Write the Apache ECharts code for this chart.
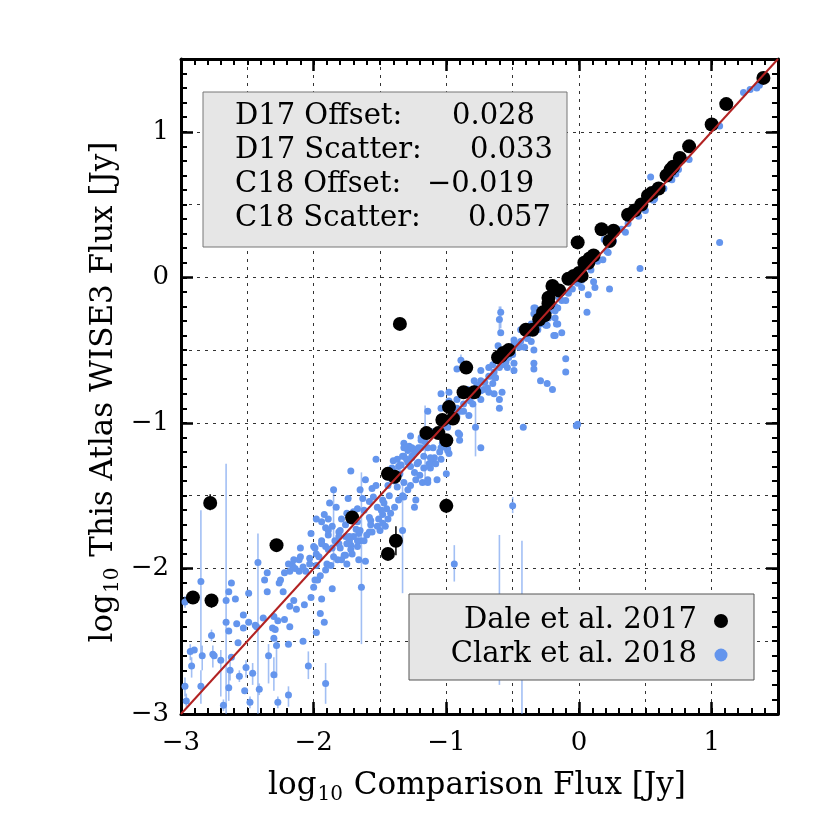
<!DOCTYPE html>
<html><head><meta charset="utf-8">
<script src="https://cdn.jsdelivr.net/npm/echarts@6/dist/echarts.min.js"></script>
<style>html,body{margin:0;padding:0;background:#fff}#c{width:830px;height:830px}</style>
</head><body><div id="c"></div>
<script>
// ---------- data ----------
const axisRange = [-3, 1.5];
const tickValues = [-3, -2, -1, 0, 1];
const tickLabels = ['\u22123', '\u22122', '\u22121', '0', '1'];

// Clark et al. 2018 points [x, y]
const clarkPoints = [
[-2.97,-2.23],[-2.93,-2.57],[-2.90,-2.56],[-2.92,-2.67],[-2.97,-2.81],[-2.96,-2.91],[-2.85,-2.81],[-2.85,-2.09],[-2.84,-2.60],[-2.77,-2.46],
[-2.76,-2.59],[-2.70,-2.63],[-2.68,-2.94],[-2.66,-2.22],[-2.66,-2.37],[-2.64,-2.43],[-2.64,-2.16],[-2.62,-2.10],[-2.63,-2.70],[-2.64,-2.82],
[-2.59,-2.21],[-2.58,-2.38],[-2.57,-2.51],[-2.56,-2.74],[-2.53,-2.32],[-2.53,-2.41],[-2.52,-2.84],[-2.51,-2.68],[-2.49,-2.17],[-2.49,-2.37],
[-2.48,-2.92],[-2.46,-2.72],[-2.44,-2.39],[-2.42,-1.96],[-2.41,-2.83],[-2.38,-2.34],[-2.37,-2.08],[-2.35,-2.16],[-2.35,-2.03],[-2.34,-2.60],
[-2.30,-2.73],[-2.31,-2.41],[-2.30,-2.33],[-2.29,-2.42],[-2.30,-2.48],[-2.28,-2.53],[-2.27,-2.92],[-2.26,-2.10],[-2.25,-2.08],[-2.27,-2.36],
[-2.23,-2.16],[-2.22,-2.35],[-2.22,-2.03],[-2.19,-1.97],[-2.19,-2.87],[-2.18,-2.40],[-2.18,-2.26],[-2.19,-2.52],[-2.16,-1.98],[-2.15,-2.22],
[-2.13,-2.28],[-2.14,-2.00],[-2.11,-2.02],[-2.10,-1.86],[-2.08,-2.50],[-2.07,-2.25],[-2.06,-2.02],[-2.04,-2.67],[-2.02,-2.20],[-2.00,-2.13],
[-1.99,-2.08],[-1.98,-1.98],[-1.95,-2.31],[-1.94,-2.21],[-1.91,-2.79],[-1.98,-2.44],[-1.92,-2.37],[-1.86,-2.14],[-1.64,-2.13],
[-2.11,-1.94],[-2.03,-1.93],[-1.98,-1.90],[-1.99,-1.86],[-1.91,-1.85],[-1.86,-1.86],[-1.84,-1.81],[-1.76,-1.91],[-1.71,-1.90],[-1.79,-1.94],
[-1.75,-1.97],[-1.66,-1.94],[-1.61,-1.95],[-1.65,-1.81],[-1.58,-1.75],[-1.94,-1.81],[-1.89,-1.77],[-1.81,-1.75],[-1.76,-1.78],[-1.72,-1.84],
[-2.02,-1.76],[-1.98,-1.66],[-1.94,-1.68],[-1.91,-1.72],[-1.92,-1.63],[-1.88,-1.55],[-1.83,-1.58],[-1.89,-1.66],[-1.86,-1.71],[-1.85,-1.46],
[-1.89,-1.74],[-1.81,-1.78],[-1.80,-1.74],[-1.79,-1.66],[-1.76,-1.70],[-1.73,-1.81],[-1.72,-1.33],[-1.74,-1.52],[-1.75,-1.62],[-1.70,-1.61],
[-1.68,-1.73],[-1.67,-1.81],[-1.67,-1.68],[-1.67,-1.59],[-1.65,-1.46],[-1.63,-1.52],[-1.62,-1.60],[-1.61,-1.39],[-1.58,-1.54],[-1.58,-1.65],
[-1.57,-1.70],[-1.56,-1.45],[-1.55,-1.51],[-1.53,-1.25],[-1.53,-1.43],[-1.52,-1.58],[-1.51,-1.66],[-1.50,-1.74],[-1.48,-1.63],[-1.48,-1.53],
[-1.47,-1.55],[-1.46,-1.71],[-1.45,-1.59],[-1.44,-1.43],[-1.43,-1.50],[-1.42,-1.38],[-1.41,-1.31],[-1.39,-1.40],[-1.37,-1.38],[-1.35,-1.35],
[-1.33,-1.50],[-1.34,-1.29],[-1.32,-1.23],[-1.29,-1.27],[-1.27,-1.30],[-1.24,-1.34],[-1.23,-1.53],[-1.24,-1.58],[-1.26,-1.23],[-1.22,-1.19],
[-1.19,-1.17],[-1.18,-1.41],[-1.14,-1.39],[-1.12,-1.31],[-1.17,-1.23],[-1.10,-1.27],[-1.08,-1.28],[-1.07,-1.39],[-1.04,-1.25],[-1.03,-1.14],
[-1.19,-1.10],[-1.27,-1.09],[-1.32,-1.14],[-1.29,-1.19],[-1.37,-1.25],[-1.21,-1.27],[-1.17,-1.12],[-1.14,-0.92],[-1.10,-1.17],[-0.99,-1.19],
[-0.98,-1.21],[-2.15,-1.94],[-2.10,-1.92],[-2.18,-2.02],[-2.08,-1.99],[-2.03,-1.97],[-1.94,-1.83],[-2.00,-1.85],
[-1.97,-2.08],[-1.95,-2.05],[-1.91,-2.01],[-1.87,-1.98],[-1.82,-1.94],[-1.77,-1.91],[-1.72,-1.87],[-1.67,-1.85],[-1.62,-1.81],[-1.60,-1.77],
[-1.56,-1.75],[-1.75,-1.83],[-1.80,-1.86],[-1.52,-1.71],[-1.48,-1.69],[-1.44,-1.66],[-1.42,-1.62],[-1.39,-1.58],[-1.36,-1.53],[-1.32,-1.51],
[-1.29,-1.46],[-1.27,-1.43],[-1.23,-1.39],[-1.20,-1.36],[-1.17,-1.31],[-1.13,-1.28],[-1.09,-1.24],[-1.05,-1.20],[-1.02,-1.16],[-1.37,-1.44],
[-1.32,-1.41],[-1.49,-1.60],[-1.57,-1.67],[-1.65,-1.74],[-1.70,-1.78],[-1.85,-1.92],[-1.90,-1.97],
[-1.96,-1.92],[-1.89,-1.87],[-1.81,-1.83],[-1.73,-1.78],[-1.66,-1.76],
[-1.33,-1.23],[-1.28,-1.16],[-1.19,-1.12],[-1.12,-1.06],[-1.00,-1.35],[-0.99,-1.18],[-0.91,-1.07],[-0.90,-1.12],[-0.99,-1.03],[-0.92,-0.96],
[-0.89,-0.57],[-0.92,-0.63],[-0.98,-0.79],[-0.92,-0.84],[-0.83,-0.95],[-0.78,-1.03],[-0.74,-1.17],[-0.80,-0.87],[-0.74,-0.84],[-0.72,-0.77],
[-0.68,-0.79],[-0.65,-0.73],[-0.72,-0.72],[-0.74,-0.71],[-0.68,-0.68],[-0.64,-0.65],[-0.60,-0.84],[-0.60,-0.90],[-0.58,-0.79],[-0.60,-0.29],
[-0.59,-0.38],[-0.61,-0.47],[-0.49,-0.64],[-0.49,-0.59],[-0.42,-1.03],[-0.34,-0.50],[-0.34,-0.59],[-0.34,-0.63],[-0.29,-0.71],[-0.24,-0.73],
[-0.20,-0.77],[-0.10,-0.56],[-0.10,-0.65],[-0.02,-1.02],[-0.18,-0.40],[-0.13,-0.38],[-0.24,-0.33],[-0.16,-0.32],[-0.33,-0.21],[-0.34,-0.25],
[-0.44,-0.44],[-0.39,-0.40],[-0.49,-0.46],[-0.68,-0.62],[-0.65,-0.60],[-0.74,-0.64],[-0.79,-0.71],[-0.85,-0.80],[-0.92,-0.90],[-1.12,-1.24],
[-1.22,-1.28],[-1.25,-1.18],[-1.14,-1.17],[-1.26,-1.24],[-1.14,-1.41],[-1.04,-1.17],[-1.32,-1.17],[-1.40,-1.26],[-1.36,-1.30],[-1.04,-0.80],
[-0.98,-0.85],[-1.04,-0.90],[-0.90,-1.08],[-0.87,-0.92],[-0.82,-0.85],[-0.84,-0.77],[-0.77,-0.74],[-0.69,-0.76],[-0.63,-0.69],[-0.58,-0.60],
[-0.53,-0.55],[-0.54,-0.62],[-0.46,-0.46],[-0.41,-0.48],[-0.36,-0.44],[-0.31,-0.36],[-0.26,-0.29],[-0.24,-0.23],[-0.18,-0.20],[-0.18,-0.28],
[-0.13,-0.16],
[-1.45,-1.37],[-1.40,-1.33],[-1.35,-1.29],[-1.30,-1.25],[-1.24,-1.20],[-1.21,-1.17],[-1.16,-1.13],[-1.09,-1.08],[-1.03,-1.03],[-0.97,-0.97],
[-0.92,-0.93],[-0.87,-0.87],[-0.82,-0.82],[-0.77,-0.77],[-0.71,-0.72],[-0.66,-0.68],[-0.60,-0.62],[-0.55,-0.58],[-0.50,-0.53],[-0.45,-0.48],
[-0.39,-0.42],[-0.34,-0.38],[-0.29,-0.32],[-0.23,-0.28],[-0.18,-0.23],[-1.26,-1.17],[-1.12,-1.08],[-0.89,-0.92],[-0.74,-0.78],[-0.63,-0.69],
[-0.59,-0.24],[-0.49,-0.43],[-0.41,-0.38],[-0.34,-0.21],[-0.32,-0.26],[-0.25,-0.33],[-0.22,-0.23],[-0.17,-0.32],[-0.19,-0.40],[-0.16,-0.21],
[-0.15,-0.14],[-0.08,-0.11],[-0.05,-0.08],[0.02,-0.07],[0.07,-0.12],[0.06,-0.24],[0.11,-0.03],[0.23,-0.08],[0.18,0.12],[0.21,0.18],
[0.19,0.26],[0.35,0.31],[0.46,0.06],[0.54,0.69],[0.56,0.53],[-0.03,-0.03],[-0.01,-0.04],[0.02,-0.02],[0.09,0.05],[0.14,0.11],
[0.22,0.17],[0.26,0.25],[0.32,0.33],[0.37,0.37],[0.45,0.42],[0.50,0.46],[0.57,0.54],[0.64,0.61],[0.70,0.67],[0.12,-0.07],
[-0.10,-0.16],[-0.29,-0.28],[-0.36,-0.32],[-0.44,-0.36],
[0.83,0.81],[0.75,0.74],[0.73,0.71],[1.06,1.04],[1.24,1.27],[1.29,1.29],[1.34,1.30],[1.36,1.32],[0.55,0.54],[1.06,0.24],
[-0.01,-1.01],[-0.50,-1.57],[-0.94,-1.97],[-1.33,-1.74],[-0.64,-0.80],[-0.60,-2.30],[-0.43,-2.45],
[-2.62,-2.61],[-2.75,-2.60],[-2.43,-2.40]
];
// Clark et al. 2018 error bars [x, low, high]
const clarkBars = [
[-2.85,-2.61,-1.60],[-2.66,-3.00,-1.28],[-2.42,-3.00,-1.76],[-1.64,-2.52,-1.34],[-1.85,-1.97,-1.44],
[-1.33,-2.17,-1.39],[-0.78,-1.23,-0.87],[-0.94,-2.09,-1.84],[-0.60,-2.80,-1.77],[-0.43,-3.00,-1.81],
[-0.50,-1.62,-1.51],[-1.16,-1.40,-0.88],[-0.60,-0.39,-0.20],[-0.59,-0.35,-0.20],[-0.89,-0.61,-0.53],
[-2.93,-2.63,-2.52],[-2.92,-2.75,-2.61],[-2.97,-2.88,-2.75],[-2.85,-2.93,-2.70],[-2.84,-2.70,-2.53],
[-2.76,-2.68,-2.53],[-2.70,-2.88,-2.56],[-2.63,-2.77,-2.64],[-2.64,-2.91,-2.72],[-2.51,-2.75,-2.63],
[-2.46,-2.80,-2.65],[-2.34,-2.79,-2.52],[-2.30,-2.84,-2.61],[-2.28,-2.75,-2.49],[-2.19,-2.95,-2.81],
[-2.04,-2.76,-2.57],[-1.91,-2.93,-2.65],[-2.97,-2.27,-2.19],[-2.96,-2.95,-2.86],[-2.77,-2.50,-2.42],
[-2.68,-2.98,-2.90],[-2.48,-2.96,-2.88],[-2.27,-2.96,-2.88],[-2.41,-2.87,-2.79],[-2.56,-2.78,-2.70]
];
// Dale et al. 2017 points [x, y]
const dalePoints = [
[-2.91,-2.20],[-2.77,-2.22],[-2.78,-1.55],[-2.28,-1.84],[-1.71,-1.65],[-1.44,-1.35],[-1.39,-1.37],[-1.44,-1.90],[-1.38,-1.81],[-1.00,-1.57],
[-1.15,-1.07],[-1.06,-1.07],[-1.00,-1.12],[-1.03,-0.98],[-0.95,-0.97],[-0.98,-0.89],[-0.87,-0.79],[-0.79,-0.79],[-0.85,-0.62],[-1.35,-0.32],
[-0.61,-0.55],[-0.57,-0.52],[-0.53,-0.50],[-0.40,-0.36],[-0.35,-0.36],[-0.26,-0.26],[-0.23,-0.18],[-0.23,-0.14],[-0.20,-0.06],[-0.15,-0.09],
[-0.08,-0.01],[-0.04,0.01],[0.00,0.03],[-0.01,0.24],[0.04,0.10],[0.08,0.13],[0.11,0.15],[0.17,0.33],[0.26,0.32],[0.23,0.25],
[0.37,0.43],[0.42,0.46],[0.47,0.50],[0.52,0.56],[0.60,0.61],[0.66,0.70],[0.71,0.76],[0.76,0.82],[0.83,0.90],[1.00,1.05],
[1.11,1.19],[1.39,1.37],[-0.30,-0.29],[0.02,0.01],[0.07,0.10],[0.55,0.58],[0.69,0.74],[-0.27,-0.24],[-0.59,-0.54]
];
// Dale et al. 2017 error bars [x, low, high]
const daleBars = [
[-2.78,-1.60,-1.49],[-1.38,-1.91,-1.71],[-1.00,-1.62,-1.52],[-2.77,-2.27,-2.18]
];
const statLabels = ['D17 Offset:', 'D17 Scatter:', 'C18 Offset:', 'C18 Scatter:'];
const statValues = ['0.028', '0.033', '\u22120.019', '0.057'];
const seriesNames = ['Dale et al. 2017', 'Clark et al. 2018'];
const xTitle = ['log', '10', ' Comparison Flux [Jy]'];
const yTitle = ['log', '10', ' This Atlas WISE3 Flux [Jy]'];

// ---------- chart ----------
const FONT = "'DejaVu Serif', serif";
const BLUE = '#6495ed';
const chart = echarts.init(document.getElementById('c'), null, {renderer: 'canvas'});

function fmt(v) {
  const i = tickValues.findIndex(t => Math.abs(t - v) < 1e-9);
  return i >= 0 ? tickLabels[i] : '';
}
function majorAxis(pos, labels) {
  return {
    type: 'value', position: pos, min: axisRange[0], max: axisRange[1], interval: 1,
    axisLine: {show: true, onZero: false, lineStyle: {color: '#000', width: 3}},
    axisTick: {show: true, inside: true, length: 12, lineStyle: {color: '#000', width: 2.5}},
    minorTick: {show: false},
    axisLabel: {show: labels, fontSize: 26, fontFamily: FONT, color: '#000',
      margin: (pos === 'bottom') ? 16 : 12, formatter: fmt},
    splitLine: {show: false}
  };
}
function minorAxis(pos, grid) {
  return {
    type: 'value', position: pos, min: axisRange[0], max: axisRange[1], interval: 0.5,
    axisLine: {show: false, onZero: false},
    axisTick: {show: true, inside: true, length: 6, lineStyle: {color: '#000', width: 2}},
    minorTick: {show: true, splitNumber: 5, length: 6, lineStyle: {color: '#000', width: 2}},
    axisLabel: {show: false},
    splitLine: {show: grid, lineStyle: {color: '#333', width: 1, type: [3, 5]}}
  };
}
function barRender(color, width) {
  return function (params, api) {
    const p1 = api.coord([api.value(0), api.value(1)]);
    const p2 = api.coord([api.value(0), api.value(2)]);
    return {type: 'line', shape: {x1: p1[0], y1: p1[1], x2: p2[0], y2: p2[1]},
      style: {stroke: color, lineWidth: width}};
  };
}
function titleRich(parts) {
  return {
    text: '{a|' + parts[0] + '}{s|' + parts[1] + '}{a|' + parts[2] + '}',
    rich: {
      a: {fontSize: 31, fontFamily: FONT, fill: '#000'},
      s: {fontSize: 20, fontFamily: FONT, fill: '#000', padding: [18, 1, 0, 1]}
    },
    align: 'center', verticalAlign: 'middle'
  };
}

const graphic = [
  {type: 'rect', shape: {x: 203, y: 92, width: 364, height: 155},
    style: {fill: '#e6e6e6', stroke: '#777', lineWidth: 1}, z: 100},
  {type: 'rect', shape: {x: 409, y: 594, width: 345, height: 86},
    style: {fill: '#e6e6e6', stroke: '#555', lineWidth: 1}, z: 100},
  {type: 'circle', shape: {cx: 721, cy: 621, r: 7}, style: {fill: '#000'}, z: 101},
  {type: 'circle', shape: {cx: 721, cy: 655, r: 6.5}, style: {fill: BLUE}, z: 101},
  {type: 'text', x: 697, y: 620, z: 101,
    style: {text: seriesNames[0], fontSize: 29, fontFamily: FONT, fill: '#000', align: 'right', verticalAlign: 'middle'}},
  {type: 'text', x: 697, y: 654, z: 101,
    style: {text: seriesNames[1], fontSize: 29, fontFamily: FONT, fill: '#000', align: 'right', verticalAlign: 'middle'}},
  {type: 'text', x: 477, y: 786, style: titleRich(xTitle)},
  {type: 'text', x: 104, y: 392, rotation: Math.PI / 2, style: titleRich(yTitle)}
];
const statLineY = [116, 150, 184, 218];
const statValueX = [452, 470, 427, 468];
for (let i = 0; i < statLabels.length; i++) {
  graphic.push({type: 'text', x: 235, y: statLineY[i], z: 101,
    style: {text: statLabels[i], fontSize: 29, fontFamily: FONT, fill: '#000', align: 'left', verticalAlign: 'middle'}});
  graphic.push({type: 'text', x: statValueX[i], y: statLineY[i], z: 101,
    style: {text: statValues[i], fontSize: 29, fontFamily: FONT, fill: '#000', align: 'left', verticalAlign: 'middle'}});
}

chart.setOption({
  animation: false,
  backgroundColor: '#fff',
  grid: {left: 181, top: 59, width: 597, height: 655, containLabel: false},
  xAxis: [majorAxis('bottom', true), minorAxis('bottom', true), majorAxis('top', false), minorAxis('top', false)],
  yAxis: [majorAxis('left', true), minorAxis('left', true), majorAxis('right', false), minorAxis('right', false)],
  series: [
    {type: 'custom', name: seriesNames[1] + ' errors', renderItem: barRender('rgba(100,149,237,0.6)', 1.6),
      data: clarkBars, clip: true, z: 2, silent: true},
    {type: 'scatter', name: seriesNames[1], data: clarkPoints, symbol: 'circle', symbolSize: 7,
      itemStyle: {color: BLUE, opacity: 1}, z: 3, clip: true},
    {type: 'custom', name: seriesNames[0] + ' errors', renderItem: barRender('#000', 1.5),
      data: daleBars, clip: true, z: 4, silent: true},
    {type: 'scatter', name: seriesNames[0], data: dalePoints, symbol: 'circle', symbolSize: 14,
      itemStyle: {color: '#000', opacity: 1}, z: 5, clip: true},
    {type: 'line', name: '1:1', data: [[axisRange[0], axisRange[0]], [axisRange[1], axisRange[1]]],
      showSymbol: false, symbol: 'none', lineStyle: {color: '#b22222', width: 2}, z: 6, silent: true}
  ],
  graphic: graphic
});
</script>
</body></html>
